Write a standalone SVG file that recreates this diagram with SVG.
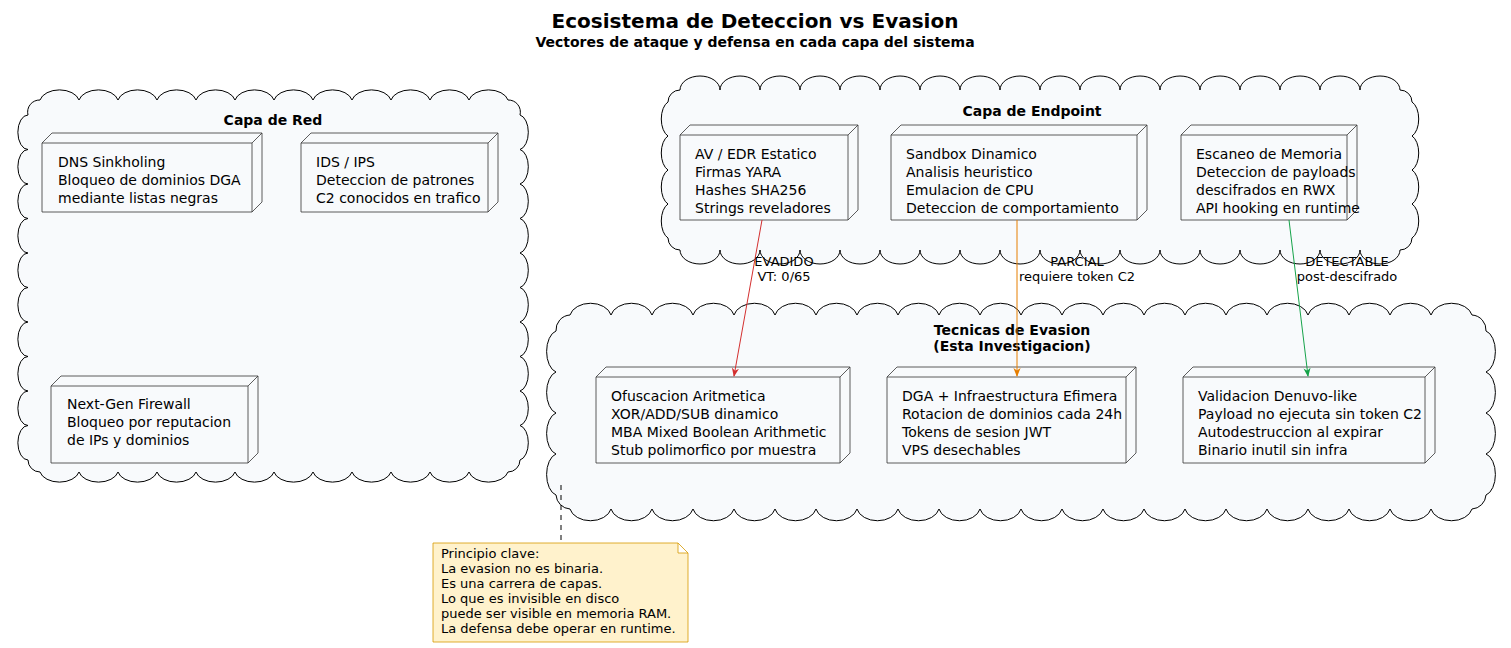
<svg xmlns="http://www.w3.org/2000/svg" width="1511" height="648" viewBox="0 0 1511 648">
<style>
text{font-family:"DejaVu Sans",sans-serif;fill:#000}
.t{font-size:14px}
.b{font-weight:bold;font-size:14px}
.l{font-size:13px}
.cloud{fill:#f8fafc;stroke:#000;stroke-width:1}
.node path{fill:#f8fafc;stroke:#333;stroke-width:0.8}
</style>
<defs>
<marker id="ar-r" viewBox="0 0 10 10" refX="9" refY="5" markerWidth="9" markerHeight="9" orient="auto"><path d="M0,1 L10,5 L0,9 L3,5 Z" fill="#d32f2f"/></marker>
<marker id="ar-o" viewBox="0 0 10 10" refX="9" refY="5" markerWidth="9" markerHeight="9" orient="auto"><path d="M0,1 L10,5 L0,9 L3,5 Z" fill="#e67e00"/></marker>
<marker id="ar-g" viewBox="0 0 10 10" refX="9" refY="5" markerWidth="9" markerHeight="9" orient="auto"><path d="M0,1 L10,5 L0,9 L3,5 Z" fill="#16a34a"/></marker>
</defs>
<rect width="1511" height="648" fill="#fff"/>
<text x="755" y="28" text-anchor="middle" style="font-size:20px;font-weight:bold">Ecosistema de Deteccion vs Evasion</text>
<text x="755" y="47" text-anchor="middle" class="b">Vectores de ataque y defensa en cada capa del sistema</text>

<g id="cloud-red">
<path class="cloud" d="M40,100 a20,13 0 0,1 39,0 a20,13 0 0,1 39,0 a20,13 0 0,1 39,0 a20,13 0 0,1 39,0 a20,13 0 0,1 39,0 a20,13 0 0,1 39,0 a20,13 0 0,1 39,0 a20,13 0 0,1 39,0 a20,13 0 0,1 39,0 a20,13 0 0,1 39,0 a20,13 0 0,1 39,0 a20,13 0 0,1 39,0 a12,12 0 0,1 12,15 a10,17.5 0 0,1 0,34.5 a10,17.5 0 0,1 0,34.5 a10,17.5 0 0,1 0,34.5 a10,17.5 0 0,1 0,34.5 a10,17.5 0 0,1 0,34.5 a10,17.5 0 0,1 0,34.5 a10,17.5 0 0,1 0,34.5 a10,17.5 0 0,1 0,34.5 a10,17.5 0 0,1 0,34.5 a10,17.5 0 0,1 0,34.5 a12,12 0 0,1 -12,12 a20,13 0 0,1 -39,0 a20,13 0 0,1 -39,0 a20,13 0 0,1 -39,0 a20,13 0 0,1 -39,0 a20,13 0 0,1 -39,0 a20,13 0 0,1 -39,0 a20,13 0 0,1 -39,0 a20,13 0 0,1 -39,0 a20,13 0 0,1 -39,0 a20,13 0 0,1 -39,0 a20,13 0 0,1 -39,0 a20,13 0 0,1 -39,0 a12,12 0 0,1 -12,-12 a10,17 0 0,1 0,-34.5 a10,17 0 0,1 0,-34.5 a10,17 0 0,1 0,-34.5 a10,17 0 0,1 0,-34.5 a10,17 0 0,1 0,-34.5 a10,17 0 0,1 0,-34.5 a10,17 0 0,1 0,-34.5 a10,17 0 0,1 0,-34.5 a10,17 0 0,1 0,-34.5 a10,17 0 0,1 0,-34.5 a12,12 0 0,1 12,-15 Z"/>
<text x="273" y="125" text-anchor="middle" class="b">Capa de Red</text>
</g>
<g id="cloud-endpoint">
<path class="cloud" d="M680,90 a20,14 0 0,1 40,0 a20,14 0 0,1 40,0 a20,14 0 0,1 40,0 a20,14 0 0,1 40,0 a20,14 0 0,1 40,0 a20,14 0 0,1 40,0 a20,14 0 0,1 40,0 a20,14 0 0,1 40,0 a20,14 0 0,1 40,0 a20,14 0 0,1 40,0 a20,14 0 0,1 40,0 a20,14 0 0,1 40,0 a20,14 0 0,1 40,0 a20,14 0 0,1 40,0 a20,14 0 0,1 40,0 a20,14 0 0,1 40,0 a20,14 0 0,1 40,0 a20,14 0 0,1 40,0 a12,12 0 0,1 12,12 a10,18 0 0,1 0,34 a10,18 0 0,1 0,34 a10,18 0 0,1 0,34 a10,18 0 0,1 0,34 a12,12 0 0,1 -12,12 a20,14 0 0,1 -40,0 a20,14 0 0,1 -40,0 a20,14 0 0,1 -40,0 a20,14 0 0,1 -40,0 a20,14 0 0,1 -40,0 a20,14 0 0,1 -40,0 a20,14 0 0,1 -40,0 a20,14 0 0,1 -40,0 a20,14 0 0,1 -40,0 a20,14 0 0,1 -40,0 a20,14 0 0,1 -40,0 a20,14 0 0,1 -40,0 a20,14 0 0,1 -40,0 a20,14 0 0,1 -40,0 a20,14 0 0,1 -40,0 a20,14 0 0,1 -40,0 a20,14 0 0,1 -40,0 a20,14 0 0,1 -40,0 a12,12 0 0,1 -12,-12 a10,18 0 0,1 0,-34 a10,18 0 0,1 0,-34 a10,18 0 0,1 0,-34 a10,18 0 0,1 0,-34 a12,12 0 0,1 12,-12 Z"/>
<text x="1032" y="116" text-anchor="middle" class="b">Capa de Endpoint</text>
</g>
<g id="cloud-evasion">
<path class="cloud" d="M570,315 a21,15 0 0,1 41,0 a21,15 0 0,1 41,0 a21,15 0 0,1 41,0 a21,15 0 0,1 41,0 a21,15 0 0,1 41,0 a21,15 0 0,1 41,0 a21,15 0 0,1 41,0 a21,15 0 0,1 41,0 a21,15 0 0,1 41,0 a21,15 0 0,1 41,0 a21,15 0 0,1 41,0 a21,15 0 0,1 41,0 a21,15 0 0,1 41,0 a21,15 0 0,1 41,0 a21,15 0 0,1 41,0 a21,15 0 0,1 41,0 a21,15 0 0,1 41,0 a21,15 0 0,1 41,0 a21,15 0 0,1 41,0 a21,15 0 0,1 41,0 a21,15 0 0,1 41,0 a21,15 0 0,1 41,0 a15,15 0 0,1 14,16 a12,21 0 0,1 0,41 a12,21 0 0,1 0,41 a12,21 0 0,1 0,41 a12,21 0 0,1 0,41 a15,15 0 0,1 -14,14 a21,15 0 0,1 -41,0 a21,15 0 0,1 -41,0 a21,15 0 0,1 -41,0 a21,15 0 0,1 -41,0 a21,15 0 0,1 -41,0 a21,15 0 0,1 -41,0 a21,15 0 0,1 -41,0 a21,15 0 0,1 -41,0 a21,15 0 0,1 -41,0 a21,15 0 0,1 -41,0 a21,15 0 0,1 -41,0 a21,15 0 0,1 -41,0 a21,15 0 0,1 -41,0 a21,15 0 0,1 -41,0 a21,15 0 0,1 -41,0 a21,15 0 0,1 -41,0 a21,15 0 0,1 -41,0 a21,15 0 0,1 -41,0 a21,15 0 0,1 -41,0 a21,15 0 0,1 -41,0 a21,15 0 0,1 -41,0 a21,15 0 0,1 -41,0 a15,15 0 0,1 -14,-14 a12,21 0 0,1 0,-41 a12,21 0 0,1 0,-41 a12,21 0 0,1 0,-41 a12,21 0 0,1 0,-41 a15,15 0 0,1 14,-16 Z"/>
<text x="1012" y="335" text-anchor="middle" class="b">Tecnicas de Evasion</text>
<text x="1012" y="351" text-anchor="middle" class="b">(Esta Investigacion)</text>
</g>

<g id="n-dns" class="node"><path d="M42,143 l10,-10 h210 v69 l-10,10 h-210 Z M42,143 h210 v69 M252,143 l10,-10"/>
<text class="t" x="58" y="167">DNS Sinkholing</text><text class="t" x="58" y="185">Bloqueo de dominios DGA</text><text class="t" x="58" y="203">mediante listas negras</text></g>
<g id="n-ids" class="node"><path d="M301,143 l10,-10 h187 v69 l-10,10 h-187 Z M301,143 h187 v69 M488,143 l10,-10"/>
<text class="t" x="316" y="167">IDS / IPS</text><text class="t" x="316" y="185">Deteccion de patrones</text><text class="t" x="316" y="203">C2 conocidos en trafico</text></g>
<g id="n-ngfw" class="node"><path d="M51,386 l10,-10 h197 v77 l-10,10 h-197 Z M51,386 h197 v77 M248,386 l10,-10"/>
<text class="t" x="67" y="409">Next-Gen Firewall</text><text class="t" x="67" y="427">Bloqueo por reputacion</text><text class="t" x="67" y="445">de IPs y dominios</text></g>

<g id="n-av" class="node"><path d="M680,135 l10,-10 h168 v85 l-10,10 h-168 Z M680,135 h168 v85 M848,135 l10,-10"/>
<text class="t" x="695" y="159">AV / EDR Estatico</text><text class="t" x="695" y="177">Firmas YARA</text><text class="t" x="695" y="195">Hashes SHA256</text><text class="t" x="695" y="213">Strings reveladores</text></g>
<g id="n-sandbox" class="node"><path d="M891,135 l10,-10 h246 v85 l-10,10 h-246 Z M891,135 h246 v85 M1137,135 l10,-10"/>
<text class="t" x="906" y="159">Sandbox Dinamico</text><text class="t" x="906" y="177">Analisis heuristico</text><text class="t" x="906" y="195">Emulacion de CPU</text><text class="t" x="906" y="213">Deteccion de comportamiento</text></g>
<g id="n-mem" class="node"><path d="M1181,135 l10,-10 h166 v85 l-10,10 h-166 Z M1181,135 h166 v85 M1347,135 l10,-10"/>
<text class="t" x="1196" y="159">Escaneo de Memoria</text><text class="t" x="1196" y="177">Deteccion de payloads</text><text class="t" x="1196" y="195">descifrados en RWX</text><text class="t" x="1196" y="213">API hooking en runtime</text></g>

<g id="n-ofus" class="node"><path d="M596,377 l10,-10 h244 v86 l-10,10 h-244 Z M596,377 h244 v86 M840,377 l10,-10"/>
<text class="t" x="611" y="401">Ofuscacion Aritmetica</text><text class="t" x="611" y="419">XOR/ADD/SUB dinamico</text><text class="t" x="611" y="437">MBA Mixed Boolean Arithmetic</text><text class="t" x="611" y="455">Stub polimorfico por muestra</text></g>
<g id="n-dga" class="node"><path d="M887,377 l10,-10 h239 v86 l-10,10 h-239 Z M887,377 h239 v86 M1126,377 l10,-10"/>
<text class="t" x="902" y="401">DGA + Infraestructura Efimera</text><text class="t" x="902" y="419">Rotacion de dominios cada 24h</text><text class="t" x="902" y="437">Tokens de sesion JWT</text><text class="t" x="902" y="455">VPS desechables</text></g>
<g id="n-val" class="node"><path d="M1183,377 l10,-10 h242 v86 l-10,10 h-242 Z M1183,377 h242 v86 M1425,377 l10,-10"/>
<text class="t" x="1198" y="401">Validacion Denuvo-like</text><text class="t" x="1198" y="419">Payload no ejecuta sin token C2</text><text class="t" x="1198" y="437">Autodestruccion al expirar</text><text class="t" x="1198" y="455">Binario inutil sin infra</text></g>

<g id="connectors" fill="none">
<line x1="762" y1="220" x2="734" y2="376" stroke="#d32f2f" marker-end="url(#ar-r)"/>
<line x1="1017" y1="220" x2="1017" y2="376" stroke="#e67e00" marker-end="url(#ar-o)"/>
<line x1="1289" y1="220" x2="1308" y2="376" stroke="#16a34a" marker-end="url(#ar-g)"/>
<line x1="561" y1="485" x2="561" y2="543" stroke="#000" stroke-dasharray="5,5"/>
</g>
<g id="labels">
<text class="l" x="784" y="266" text-anchor="middle">EVADIDO</text><text class="l" x="784" y="281" text-anchor="middle">VT: 0/65</text>
<text class="l" x="1077" y="266" text-anchor="middle">PARCIAL</text><text class="l" x="1077" y="281" text-anchor="middle">requiere token C2</text>
<text class="l" x="1347" y="266" text-anchor="middle">DETECTABLE</text><text class="l" x="1347" y="281" text-anchor="middle">post-descifrado</text>
</g>
<g id="note">
<path d="M433,543 h245 l10,10 v89 h-255 Z M678,543 v10 h10" fill="#fff2cc" stroke="#d79b00" stroke-width="0.8"/>
<text class="l" x="441" y="558">Principio clave:</text>
<text class="l" x="441" y="573">La evasion no es binaria.</text>
<text class="l" x="441" y="588">Es una carrera de capas.</text>
<text class="l" x="441" y="603">Lo que es invisible en disco</text>
<text class="l" x="441" y="618">puede ser visible en memoria RAM.</text>
<text class="l" x="441" y="633">La defensa debe operar en runtime.</text>
</g>
</svg>
